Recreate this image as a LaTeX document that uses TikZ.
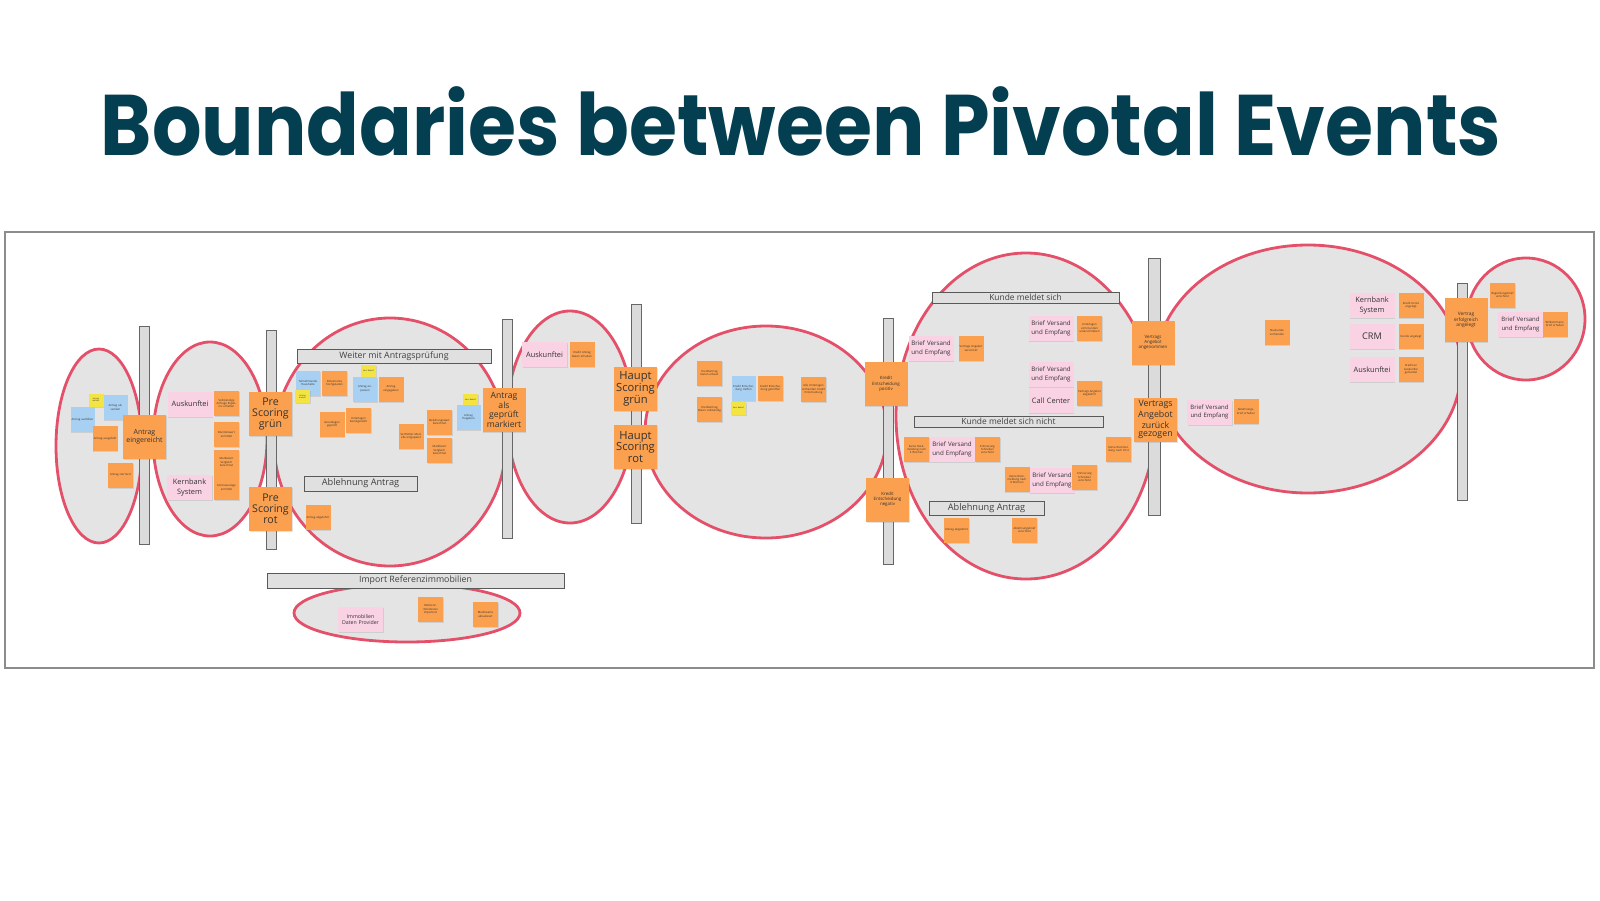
\documentclass[tikz,border=0pt]{standalone}
\usepackage{fontspec}
\setmainfont{Open Sans}
\newfontfamily\titlefont{Poppins}
\usetikzlibrary{shadows}
\definecolor{ored}{HTML}{E4506A}
\definecolor{egray}{HTML}{E4E4E4}
\definecolor{onote}{HTML}{FAA04E}
\definecolor{pnote}{HTML}{F9D3E4}
\definecolor{bnote}{HTML}{A8D0F2}
\definecolor{ynote}{HTML}{F3E444}
\definecolor{titleblue}{HTML}{033F51}
\tikzset{
 ell/.style={draw=ored, line width=1.4pt, fill=egray},
 vbar/.style={draw=black!60, line width=0.45pt, fill=black!14},
 hbar/.style={draw=black!65, line width=0.45pt, fill=black!12, inner sep=0pt, text=black!75},
 sn/.style={inner sep=0.5pt, align=center, text=black!80, drop shadow={shadow xshift=0.3pt, shadow yshift=-0.5pt, opacity=0.22}},
 small/.style={sn, fill=onote, minimum width=12.5pt, minimum height=12.5pt, text width=11.5pt, font=\fontsize{1.4}{1.7}\selectfont},
 big/.style={sn, fill=onote, minimum width=21.5pt, minimum height=22pt, text width=20.5pt, font=\fontsize{5.3}{5.4}\selectfont},
 pink/.style={sn, fill=pnote, minimum width=22.5pt, minimum height=12.5pt, text width=21.5pt, font=\fontsize{3.7}{4.6}\selectfont},
 blue/.style={sn, fill=bnote, minimum width=12pt, minimum height=12.5pt, text width=11pt, font=\fontsize{1.4}{1.7}\selectfont},
 yel/.style={sn, fill=ynote, minimum width=7.5pt, minimum height=6.5pt, text width=6.5pt, font=\fontsize{1}{1.2}\selectfont},
}
\begin{document}
\begin{tikzpicture}[x=0.5pt,y=-0.5pt]
\useasboundingbox (0,0) rectangle (1600,900);
\fill[white] (0,0) rectangle (1600,900);
% title
\node[anchor=base, text=titleblue, inner sep=0pt, font=\titlefont\bfseries\fontsize{43}{48}\selectfont] (title) at (801,155) {\scalebox{0.905}[1]{Boundaries between Pivotal Events}};
% frame
\draw[draw=black!45, line width=0.6pt] (5,232) rectangle (1594,668);
% ellipses
\draw[ell] (99,446) ellipse [x radius=43, y radius=97];
\draw[ell] (210,439) ellipse [x radius=57, y radius=97];
\draw[ell] (390,442) ellipse [x radius=116, y radius=124];
\draw[ell] (570,417) ellipse [x radius=63, y radius=106];
\draw[ell] (766,432) ellipse [x radius=121, y radius=106];
\draw[ell] (1026,416) ellipse [x radius=130, y radius=163];
\draw[ell] (1308,369) ellipse [x radius=153, y radius=124];
\draw[ell] (1526,319) ellipse [x radius=59, y radius=61];
\draw[ell] (407,613) ellipse [x radius=113, y radius=29];
% vertical boundaries
\draw[vbar] (139,326) rectangle (149,544);
\draw[vbar] (266,330) rectangle (276,549);
\draw[vbar] (502,319) rectangle (512,538);
\draw[vbar] (631,304) rectangle (641,523);
\draw[vbar] (883,318) rectangle (893,564);
\draw[vbar] (1148,258) rectangle (1160,515);
\draw[vbar] (1457,283) rectangle (1467,500);
% horizontal labels
\node[hbar, minimum width=97pt, minimum height=7pt, font=\fontsize{4.4}{5}\selectfont] (h1) at (394,356) {Weiter mit Antragsprüfung};
\node[hbar, minimum width=56.5pt, minimum height=7.5pt, font=\fontsize{4.6}{5}\selectfont] (h2) at (360.5,483.5) {Ablehnung Antrag};
\node[hbar, minimum width=148.5pt, minimum height=7.5pt, font=\fontsize{4.4}{5}\selectfont] (h3) at (415.5,580.5) {Import Referenzimmobilien};
\node[hbar, minimum width=93.5pt, minimum height=5.5pt, font=\fontsize{4.2}{5}\selectfont] (h4) at (1025.5,297.5) {Kunde meldet sich};
\node[hbar, minimum width=94.5pt, minimum height=5.5pt, font=\fontsize{4.2}{5}\selectfont] (h5) at (1008.5,421.5) {Kunde meldet sich nicht};
\node[hbar, minimum width=57.5pt, minimum height=7pt, font=\fontsize{4.6}{5}\selectfont] (h6) at (986.5,508) {Ablehnung Antrag};
% region 1
\node[yel] (a1) at (96,400) {Antrag wählen};
\node[blue] (a2) at (82.5,419.5) {Antrag ausfüllen};
\node[blue] (a3) at (115.5,407.5) {Antrag absenden};
\node[small] (a4) at (105,438.5) {Antrag ausgefüllt};
\node[big, font=\fontsize{3.5}{3.8}\selectfont] (a5) at (144.5,437) {Antrag\\eingereicht};
\node[small] (a6) at (120.5,475) {Antrag storniert};
\node[pink] (a7) at (190,404) {Auskunftei};
\node[small] (a8) at (226.5,403.5) {Vollständige Anfrage Ergebnis erhalten};
\node[small] (a9) at (226.5,434.5) {Bonitäts\-wert ermittelt};
\node[small] (a10) at (226.5,462) {Marktwert Vergleich berechnet};
\node[small] (a11) at (226.5,487.5) {Konto\-auszüge ermittelt};
\node[pink] (a12) at (189.5,487.5) {Kernbank System};
\node[big] (a13) at (270.5,414) {Pre\\Scoring\\grün};
\node[big] (a14) at (270.5,508.5) {Pre\\Scoring\\rot};
% region 2
\node[blue] (b1) at (308,383) {Teilnehmende Haushalte};
\node[yel] (b2) at (302.5,396.5) {Antrag ändern};
\node[small] (b3) at (334.5,383) {Dokumente hochgeladen};
\node[yel] (b4) at (368.5,371) {Kein Bedarf};
\node[blue] (b5) at (365,389) {Antrag anpassen};
\node[small] (b6) at (391,389) {Antrag eingegeben};
\node[small] (b7) at (332,424.5) {Grundlagen geprüft};
\node[small] (b8) at (358.5,420.5) {Unterlagen bereitgestellt};
\node[small] (b9) at (411,436) {Vermittler Modelle eingepasst};
\node[small] (b10) at (439.5,422) {Beleihungs\-wert berechnet};
\node[small] (b11) at (439.5,450) {Marktwert Vergleich berechnet};
\node[yel] (b12) at (470.5,400) {Kein Bedarf};
\node[blue] (b13) at (468.5,417.5) {Antrag freigeben};
\node[big, font=\fontsize{4.3}{4.1}\selectfont] (b14) at (504,410) {Antrag\\als\\geprüft\\markiert};
\node[small] (b15) at (318,517.5) {Antrag abgelehnt};
% region 3
\node[pink] (c1) at (544.5,354.5) {Auskunftei};
\node[small] (c2) at (582,354.5) {Kredit Antrag Daten erhalten};
\node[big, font=\fontsize{5.6}{5.9}\selectfont] (c3) at (635.5,389) {Haupt\\Scoring\\grün};
\node[big, font=\fontsize{5.6}{5.9}\selectfont] (c4) at (635.5,447) {Haupt\\Scoring\\rot};
\node[small] (c5) at (709.5,373) {Kreditantrag Daten erfasst};
\node[small] (c6) at (709.5,409) {Kreditantrag Daten vollständig};
\node[blue] (c7) at (743.5,388) {Kredit Entscheidung treffen};
\node[yel] (c8) at (738.5,408) {Kein Bedarf};
\node[small] (c9) at (770.5,388.5) {Kredit Entscheidung getroffen};
\node[small] (c10) at (813.5,389.5) {Alle Unterlagen vorhanden Kredit Entscheidung};
\node[big, font=\fontsize{2.2}{2.6}\selectfont] (c11) at (886,384) {Kredit\\Entscheidung\\positiv};
\node[big, font=\fontsize{2.2}{2.6}\selectfont] (c12) at (887.5,499.5) {Kredit\\Entscheidung\\negativ};
% region 4
\node[pink, font=\fontsize{3.1}{4.4}\selectfont] (d1) at (931,348.5) {Brief Versand und Empfang};
\node[small] (d2) at (971,348.5) {Vertrags Angebot verschickt};
\node[pink, font=\fontsize{3.1}{4.4}\selectfont] (d3) at (1051,328.5) {Brief Versand und Empfang};
\node[small] (d4) at (1089.5,328) {Unterlagen vom Kunden unterschrieben};
\node[pink, font=\fontsize{3.1}{4.4}\selectfont] (d5) at (1051,374.5) {Brief Versand und Empfang};
\node[pink] (d6) at (1051,400.5) {Call Center};
\node[small] (d7) at (1089.5,393.5) {Vertrags Angebot abgelehnt};
\node[small] (d8) at (916.5,449.5) {Keine Rückmeldung nach 4 Wochen};
\node[pink, font=\fontsize{3.1}{4.4}\selectfont] (d9) at (952,449.5) {Brief Versand und Empfang};
\node[small] (d10) at (987.5,449.5) {Erinnerung Schreiben verschickt};
\node[small] (d11) at (1118.5,449) {Keine Rückmeldung nach Frist};
\node[small] (d12) at (1017,479.5) {Keine Rückmeldung nach 8 Wochen};
\node[pink, font=\fontsize{3.1}{4.4}\selectfont] (d13) at (1052,480) {Brief Versand und Empfang};
\node[small] (d14) at (1084.5,477) {Erinnerung Schreiben verschickt};
\node[small] (d15) at (956.5,530) {Antrag abgelehnt};
\node[small] (d16) at (1024.5,530) {Ablehnungs\-brief verschickt};
\node[big, font=\fontsize{2.2}{2.6}\selectfont] (d17) at (1153,342.5) {Vertrags\\Angebot\\angenommen};
\node[big, font=\fontsize{4.4}{4.2}\selectfont] (d18) at (1155.5,419.5) {Vertrags\\Angebot\\zurück\\gezogen};
% region 5
\node[small] (e1) at (1277,332.5) {Neukunde vorhanden};
\node[pink] (e2) at (1372,305.5) {Kernbank System};
\node[small] (e3) at (1411,305.5) {Kredit Konto angelegt};
\node[pink, font=\fontsize{4.6}{5}\selectfont] (e4) at (1372,336.5) {CRM};
\node[small] (e5) at (1411,336.5) {Kunde angelegt};
\node[pink] (e6) at (1372,369.5) {Auskunftei};
\node[small] (e7) at (1411,369.5) {Kredit an Auskunftei gemeldet};
\node[pink, font=\fontsize{3}{4.4}\selectfont] (e8) at (1209.5,412) {Brief Versand und Empfang};
\node[small] (e9) at (1246,411.5) {Ablehnungs\-brief erhalten};
\node[big, font=\fontsize{2.4}{2.7}\selectfont] (e10) at (1466,320) {Vertrag\\erfolgreich\\angelegt};
\node[small] (e11) at (1502.5,295) {Begrüßungs\-brief verschickt};
\node[pink, font=\fontsize{3}{4.4}\selectfont] (e12) at (1520.5,324.5) {Brief Versand und Empfang};
\node[small] (e13) at (1555,324) {Willkommens\-brief erhalten};
% region 6
\node[pink, font=\fontsize{2.6}{3.4}\selectfont] (f1) at (360.5,619.5) {Immobilien Daten Provider};
\node[small] (f2) at (430.5,609.5) {Referenz\-immobilien importiert};
\node[small] (f3) at (485.5,614.5) {Marktwerte aktualisiert};
\end{tikzpicture}
\end{document}
